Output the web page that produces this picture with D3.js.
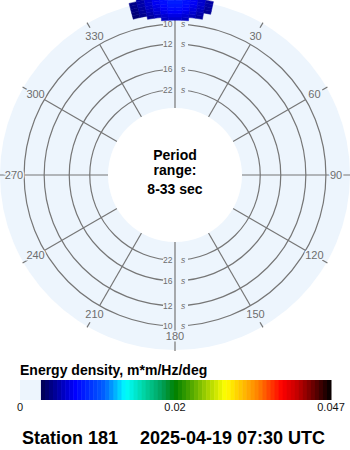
<!DOCTYPE html>
<html>
<head>
<meta charset="utf-8">
<script src="https://cdn.jsdelivr.net/npm/d3@7"></script>
<style>
  body { margin: 0; background: #fff; }
  svg { display: block; font-family: "Liberation Sans", Arial, sans-serif; }
</style>
</head>
<body>
<div id="chart"></div>
<script>
// period range shown on the rose (sec), outer edge = short periods
const periodRange = [33, 8];
const ringPeriods = [10, 12, 16, 22];
const angleTicks = [0, 30, 60, 90, 120, 150, 180, 210, 240, 270, 300, 330];

// spectrum cells: direction bins (deg) x frequency bins (Hz)
const dirCenters = [-13.75, -11.25, -8.75, -6.25, -3.75, -1.25, 1.25, 3.75, 6.25, 8.75, 11.25];
const dirWidth = 2.5;
const freqCenters = [0.1046, 0.1073, 0.1100, 0.1127, 0.1154, 0.1181, 0.1208, 0.1235];
const freqWidth = 0.0027;
const energy = [
    [0,      0,      0,      0,      0.0055, 0.0059, 0.0059, 0.0055, 0,      0,      0     ],
    [0,      0,      0.0046, 0.0053, 0.0059, 0.0064, 0.0064, 0.0060, 0.0054, 0.0046, 0     ],
    [0.0035, 0.0042, 0.0050, 0.0058, 0.0065, 0.0070, 0.0070, 0.0065, 0.0059, 0.0050, 0     ],
    [0.0037, 0.0045, 0.0054, 0.0062, 0.0069, 0.0075, 0.0075, 0.0070, 0.0063, 0.0054, 0.0044],
    [0.0039, 0.0047, 0.0057, 0.0065, 0.0073, 0.0079, 0.0079, 0.0074, 0.0066, 0.0057, 0.0046],
    [0.0041, 0.0049, 0.0059, 0.0068, 0.0076, 0.0082, 0.0082, 0.0077, 0.0069, 0.0059, 0.0048],
    [0.0041, 0.0049, 0.0059, 0.0068, 0.0076, 0.0082, 0.0082, 0.0077, 0.0069, 0.0059, 0.0048],
    [0,      0.0048, 0.0058, 0.0067, 0.0074, 0.0080, 0.0080, 0.0075, 0.0068, 0.0058, 0     ]
];

// colour bar
const barTicks = [0, 0.02, 0.047];
const barTickLabels = ["0", "0.02", "0.047"];
const lowCut = 0.0027;
const stopValues = [0.0027, 0.0071, 0.0110, 0.0136, 0.0161, 0.0183, 0.0200, 0.0223,
    0.0257, 0.0287, 0.0316, 0.0344, 0.0385, 0.0413, 0.0442, 0.0470];
const stopColors = ["#000050", "#0000ff", "#0064ff", "#00ffff", "#00d2a0", "#00a05a", "#008000", "#40a000",
    "#a8d400", "#ffff00", "#ffc000", "#ff8000", "#ff0000", "#c00000", "#600000", "#000000"];

const barTitle = "Energy density, m*m/Hz/deg";
const centerLines = ["Period", "range:", "8-33 sec"];
const stationName = "Station 181";
const timeLabel = "2025-04-19 07:30 UTC";

const W = 350, H = 450;
const cx = 175, cy = 175, diskR = 175;
const diskColor = "#edf5fd";
const gridColor = "#767676";

const svg = d3.select("#chart")
    .append("svg")
    .attr("width", W)
    .attr("height", H)
    .attr("viewBox", `0 0 ${W} ${H}`);

const rScale = d3.scaleLinear()
    .domain([1 / periodRange[0], 1 / periodRange[1]])
    .range([67, 181]);

const colorScale = d3.scaleLinear()
    .domain(stopValues)
    .range(stopColors)
    .clamp(true);
const colorOf = v => v < lowCut ? diskColor : colorScale(v);

const rad = deg => deg * Math.PI / 180;
const polar = (deg, r) => [cx + r * Math.sin(rad(deg)), cy - r * Math.cos(rad(deg))];

const rose = svg.append("g");

rose.append("circle")
    .attr("cx", cx).attr("cy", cy).attr("r", diskR)
    .attr("fill", diskColor);

rose.selectAll("circle.ring")
    .data(ringPeriods)
    .join("circle")
    .attr("class", "ring")
    .attr("cx", cx).attr("cy", cy)
    .attr("r", p => rScale(1 / p))
    .attr("fill", "none")
    .attr("stroke", gridColor)
    .attr("stroke-width", 1.2);

// gaps in the rings where the period labels sit
const ringLabelPos = ringPeriods.flatMap(p => [
    { p, y: cy - rScale(1 / p) },
    { p, y: cy + rScale(1 / p) }
]);
rose.selectAll("rect.ringgap")
    .data(ringLabelPos)
    .join("rect")
    .attr("class", "ringgap")
    .attr("x", cx - 12).attr("width", 25)
    .attr("y", d => d.y - 4).attr("height", 8)
    .attr("fill", diskColor);

const rInner = rScale(1 / periodRange[0]);
rose.selectAll("line.spoke")
    .data(angleTicks)
    .join("line")
    .attr("class", "spoke")
    .each(function(a) {
        const rOut = a % 90 === 0 ? diskR + 1 : rScale(1 / 10);
        const p0 = polar(a, rInner), p1 = polar(a, rOut);
        d3.select(this).attr("x1", p0[0]).attr("y1", p0[1]).attr("x2", p1[0]).attr("y2", p1[1]);
    })
    .attr("stroke", gridColor)
    .attr("stroke-width", 1.2);

rose.selectAll("line.tick")
    .data(angleTicks.filter(a => a % 90 !== 0))
    .join("line")
    .attr("class", "tick")
    .each(function(a) {
        const p0 = polar(a, 170), p1 = polar(a, 176);
        d3.select(this).attr("x1", p0[0]).attr("y1", p0[1]).attr("x2", p1[0]).attr("y2", p1[1]);
    })
    .attr("stroke", gridColor)
    .attr("stroke-width", 1.2);

rose.selectAll("text.angle")
    .data(angleTicks)
    .join("text")
    .attr("class", "angle")
    .attr("x", a => polar(a, 161)[0])
    .attr("y", a => polar(a, 161)[1])
    .attr("dy", "0.36em")
    .attr("text-anchor", "middle")
    .attr("font-size", 11)
    .attr("fill", "#6e6e6e")
    .attr("stroke", diskColor)
    .attr("stroke-width", 3)
    .attr("paint-order", "stroke")
    .text(a => a);

const ringLabels = rose.selectAll("g.ringlabel")
    .data(ringLabelPos)
    .join("g")
    .attr("class", "ringlabel")
    .attr("font-size", 8.5)
    .attr("fill", "#6e6e6e");
ringLabels.append("text")
    .attr("x", cx - 2.5)
    .attr("y", d => d.y)
    .attr("dy", "0.35em")
    .attr("text-anchor", "end")
    .text(d => d.p);
ringLabels.append("text")
    .attr("x", cx + 6)
    .attr("y", d => d.y)
    .attr("dy", "0.35em")
    .attr("font-style", "italic")
    .text("s");

rose.append("circle")
    .attr("cx", cx).attr("cy", cy).attr("r", rInner)
    .attr("fill", "#fff");

rose.append("g")
    .selectAll("text")
    .data(centerLines)
    .join("text")
    .attr("x", cx)
    .attr("y", (d, i) => [160, 175, 194][i])
    .attr("text-anchor", "middle")
    .attr("font-size", 14)
    .attr("font-weight", "bold")
    .attr("fill", "#000")
    .text(d => d);

// spectrum cells
const cells = [];
freqCenters.forEach((f, i) => {
    dirCenters.forEach((dir, j) => {
        if (energy[i][j] > 0) cells.push({ f, dir, v: energy[i][j] });
    });
});
const arc = d3.arc();
rose.append("g")
    .attr("transform", `translate(${cx},${cy})`)
    .selectAll("path")
    .data(cells)
    .join("path")
    .attr("d", d => arc({
        innerRadius: rScale(d.f - freqWidth / 2),
        outerRadius: rScale(d.f + freqWidth / 2),
        startAngle: rad(d.dir - dirWidth / 2),
        endAngle: rad(d.dir + dirWidth / 2)
    }))
    .attr("fill", d => colorOf(d.v))
    .attr("stroke", d => colorOf(d.v))
    .attr("stroke-width", 0.5);

// colour bar
const xBar = d3.scaleLinear().domain(barTicks).range([20, 175, 331]);
const bar = svg.append("g");
const barY = 380, barH = 20;

bar.append("text")
    .attr("x", 20).attr("y", 375)
    .attr("font-size", 14)
    .attr("font-weight", "bold")
    .attr("fill", "#000")
    .text(barTitle);

bar.append("rect")
    .attr("x", xBar(0)).attr("y", barY)
    .attr("width", xBar(lowCut) - xBar(0)).attr("height", barH)
    .attr("fill", diskColor);

const nSteps = 72;
const x0 = xBar(lowCut), x1 = xBar(barTicks[barTicks.length - 1]);
const stepW = (x1 - x0) / nSteps;
bar.selectAll("rect.step")
    .data(d3.range(nSteps))
    .join("rect")
    .attr("class", "step")
    .attr("x", k => x0 + k * stepW)
    .attr("y", barY)
    .attr("width", stepW + 0.5)
    .attr("height", barH)
    .attr("fill", k => colorOf(xBar.invert(x0 + (k + 0.5) * stepW)));

bar.selectAll("text.tl")
    .data(barTicks)
    .join("text")
    .attr("class", "tl")
    .attr("x", v => xBar(v))
    .attr("y", 411)
    .attr("text-anchor", "middle")
    .attr("font-size", 11)
    .attr("fill", "#111")
    .text((v, i) => barTickLabels[i]);

svg.append("text")
    .attr("x", 22).attr("y", 444)
    .attr("font-size", 18)
    .attr("font-weight", "bold")
    .attr("fill", "#000")
    .text(stationName);
svg.append("text")
    .attr("x", 140).attr("y", 444)
    .attr("font-size", 18)
    .attr("font-weight", "bold")
    .attr("fill", "#000")
    .text(timeLabel);
</script>
</body>
</html>
